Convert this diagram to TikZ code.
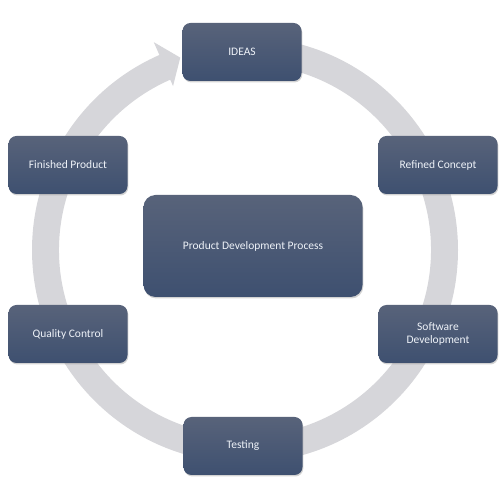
\documentclass[tikz,border=0pt]{standalone}
\usepackage{fontspec}
\setmainfont{Carlito}
\usetikzlibrary{shadows}

\definecolor{ringgray}{RGB}{214,214,218}
\definecolor{boxtop}{RGB}{88,99,122}
\definecolor{boxbottom}{RGB}{62,80,112}
\definecolor{boxtext}{RGB}{238,242,248}

\tikzset{
  stage/.style={rectangle, rounded corners=8pt, minimum width=119pt, minimum height=58pt,
    top color=boxtop, bottom color=boxbottom, text=boxtext, align=center,
    font=\fontsize{11.5}{13.5}\selectfont,
    drop shadow={opacity=0.35, shadow xshift=0.8pt, shadow yshift=-1.5pt}},
  hub/.style={stage, rounded corners=12pt, minimum width=219pt, minimum height=102pt}
}

\begin{document}
\begin{tikzpicture}[x=1pt,y=1pt]
  \useasboundingbox (0,0) rectangle (500,500);

  % the cycle ring with its arrow head
  \begin{scope}[shift={(245,250)}]
    \fill [ringgray] (90:213) arc [start angle=90, end angle=-246.3, radius=213]
      -- (-246.3:227) -- (-251.4:203) -- (-246.3:179) -- (-246.3:186)
      arc [start angle=-246.3, end angle=90, radius=186] -- cycle;
  \end{scope}

  \node [stage] (ideas)    at (242,448) {IDEAS};
  \node [stage] (refined)  at (438,335) {Refined Concept};
  \node [stage] (software) at (438,166) {Software\\Development};
  \node [stage] (testing)  at (243,54)  {Testing};
  \node [stage] (quality)  at (68,166)  {Quality Control};
  \node [stage] (finished) at (68,335)  {Finished Product};

  \node [hub] (process) at (253,254) {Product Development Process};
\end{tikzpicture}
\end{document}
